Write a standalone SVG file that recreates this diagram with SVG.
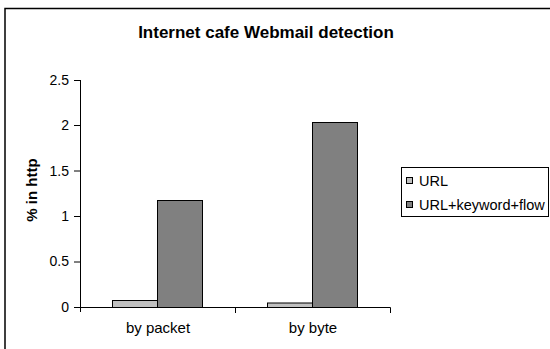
<svg xmlns="http://www.w3.org/2000/svg" width="550" height="349" viewBox="0 0 550 349">
<style>
text{font-family:"Liberation Sans",Arial,sans-serif;fill:#000}
.tick{font-size:14px;text-anchor:end}
.cat{font-size:15px;text-anchor:middle}
.leg{font-size:14.5px}
.ax{stroke:#000;stroke-width:1;fill:none}
.s1{fill:#c0c0c0;stroke:#000;stroke-width:1}
.s2{fill:#808080;stroke:#000;stroke-width:1}
</style>
<rect x="0" y="0" width="550" height="349" fill="#fff"/>
<rect x="5" y="8.5" width="560" height="360" fill="none" stroke="#000" stroke-width="1.5"/>
<g id="title"><text x="266" y="38" font-size="17" font-weight="bold" text-anchor="middle">Internet cafe Webmail detection</text></g>
<g id="yaxis">
<path class="ax" d="M80.5 80V312M74 80.5H80.5M74 125.5H80.5M74 171H80.5M74 216.5H80.5M74 262H80.5M74 307.5H80.5"/>
<text class="tick" x="69" y="85">2.5</text>
<text class="tick" x="69" y="130">2</text>
<text class="tick" x="69" y="176">1.5</text>
<text class="tick" x="69" y="221">1</text>
<text class="tick" x="69" y="266">0.5</text>
<text class="tick" x="69" y="312">0</text>
<text x="37" y="190" font-size="15" font-weight="bold" text-anchor="middle" transform="rotate(-90 37 190)">% in http</text>
</g>
<g id="bars">
<rect class="s1" x="112.5" y="300.5" width="45" height="7"/>
<rect class="s2" x="157.5" y="200.5" width="45" height="107"/>
<rect class="s1" x="267.5" y="303" width="45" height="4.5"/>
<rect class="s2" x="312.5" y="122.5" width="45" height="185"/>
</g>
<g id="xaxis">
<path class="ax" d="M80 307.5H390.5M235.5 307.5V313M390.5 307.5V313"/>
<text class="cat" x="158" y="333">by packet</text>
<text class="cat" x="313" y="333">by byte</text>
</g>
<g id="legend">
<rect x="401.5" y="167.5" width="147" height="49" fill="#fff" stroke="#000" stroke-width="1"/>
<rect class="s1" x="406.5" y="177.5" width="6" height="6"/>
<text class="leg" x="419" y="186">URL</text>
<rect class="s2" x="406.5" y="201.5" width="6" height="6"/>
<text class="leg" x="419" y="210">URL+keyword+flow</text>
</g>
</svg>
